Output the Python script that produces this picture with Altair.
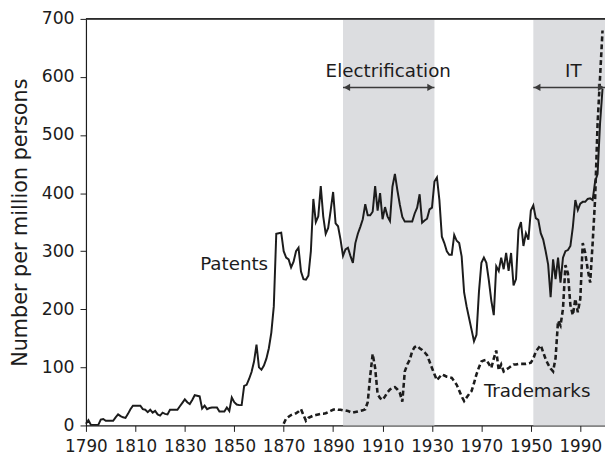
import altair as alt
import pandas as pd

# ---------------- data ----------------
pat_years = list(range(1790, 2000))
patents = [
    3, 9, 1, 1, 1, 1, 10, 11, 8, 8,
    8, 8, 14, 19, 16, 14, 13, 20, 28, 34,
    34, 34, 34, 28, 27, 23, 27, 22, 25, 19,
    17, 22, 20, 19, 27, 27, 27, 27, 33, 39,
    45, 40, 37, 44, 52, 51, 50, 29, 34, 28,
    30, 31, 31, 31, 24, 24, 24, 31, 25, 48,
    40, 36, 35, 35, 68, 70, 80, 92, 110, 139,
    100, 96, 103, 115, 133, 160, 205, 330, 331, 332,
    300, 289, 286, 272, 282, 300, 306, 265, 252, 251,
    258, 300, 390, 350, 360, 412, 360, 330, 340, 370,
    402, 348, 343, 320, 292, 303, 306, 292, 280, 314,
    330, 342, 355, 381, 362, 362, 368, 412, 370, 400,
    355, 376, 360, 352, 411, 433, 405, 380, 359, 351,
    351, 351, 351, 365, 375, 398, 349, 353, 356, 372,
    375, 420, 427, 388, 325, 314, 300, 294, 294, 328,
    318, 314, 291, 229, 205, 185, 165, 145, 156, 230,
    280, 289, 280, 250, 215, 190, 274, 266, 289, 269,
    297, 266, 297, 241, 252, 337, 350, 309, 331, 320,
    370, 379, 357, 354, 331, 320, 300, 277, 221, 286,
    252, 289, 246, 289, 300, 302, 309, 342, 388, 371,
    382, 385, 385, 390, 391, 388, 420, 433, 520, 580,
]
tm_years = list(range(1870, 2000))
trademarks = [
    3, 12, 15, 18, 20, 21, 24, 28, 18, 8,
    13, 15, 17, 18, 19, 20, 20, 21, 23, 25,
    27, 28, 27, 27, 26, 26, 25, 23, 22, 23,
    24, 25, 26, 28, 40, 85, 123, 99, 54, 47,
    44, 50, 57, 62, 65, 66, 62, 56, 41, 93,
    105, 113, 128, 135, 137, 133, 130, 126, 121, 110,
    99, 88, 78, 83, 88, 86, 84, 83, 82, 76,
    70, 60, 50, 42, 48, 54, 59, 73, 88, 100,
    110, 112, 113, 106, 99, 115, 129, 95, 105, 93,
    96, 99, 102, 105, 105, 106, 106, 106, 106, 107,
    108, 115, 127, 133, 138, 126, 114, 105, 98, 93,
    116, 180, 172, 201, 276, 262, 207, 190, 218, 195,
    218, 314, 297, 269, 246, 314, 390, 520, 600, 680,
]
eras = ["Electrification", "IT"]
era_start = [1894, 1971]
era_end = [1931, 2000]
era_label_x = [1912.3, 1987.2]
era_label_y = [600, 600]
era_arrow_y = [582, 582]

series_labels = ["Patents", "Trademarks"]
series_label_x = [1863.7, 1951]
series_label_y = [277, 49]

x_ticks = list(range(1790, 2000, 20))
y_ticks = list(range(0, 701, 100))

# ---------------- tables ----------------
pat_df = pd.DataFrame({"year": pat_years, "value": patents})
tm_df = pd.DataFrame({"year": tm_years, "value": trademarks})
era_df = pd.DataFrame({
    "era": eras, "start": era_start, "end": era_end,
    "lx": era_label_x, "ly": era_label_y, "ay": era_arrow_y,
})

FONT = "DejaVu Sans"
INK = "#1c1c1c"
xscale = alt.Scale(domain=[1790, 2000], nice=False, zero=False)
yscale = alt.Scale(domain=[0, 700], nice=False)

x_axis = alt.Axis(
    values=x_ticks, title=None, grid=False, tickSize=6, labelPadding=7,
    format="d",
    labelFontSize=17, labelFont=FONT, labelColor=INK, labelFlush=False,
    labelOverlap=False, domainColor=INK, tickColor=INK, domainWidth=1.2,
    labelExpr="datum.value == 1950 ? '1970' : datum.value == 1970 ? '1950' : datum.label",
)
y_axis = alt.Axis(
    values=y_ticks, title="Number per million persons", grid=False, tickSize=6,
    labelPadding=6, labelFontSize=17.5, labelFont=FONT, labelColor=INK,
    titleFont=FONT, titleFontSize=21, titleFontWeight="normal", titleColor=INK,
    titlePadding=11, domainColor=INK, tickColor=INK, domainWidth=1.2,
)

shade = alt.Chart(era_df).mark_rect(color="#dcdde0").encode(
    x=alt.X("start:Q", scale=xscale, axis=x_axis),
    x2="end:Q",
    y=alt.Y("y0:Q", scale=yscale, axis=y_axis),
    y2="y1:Q",
).transform_calculate(y0="0", y1="700")

top_rule = alt.Chart(era_df).mark_rule(color=INK, strokeWidth=1.2).encode(
    y=alt.datum(700, scale=yscale)
)

pat_line = alt.Chart(pat_df).mark_line(color=INK, strokeWidth=2).encode(
    x=alt.X("year:Q", scale=xscale), y=alt.Y("value:Q", scale=yscale)
)
tm_line = alt.Chart(tm_df).mark_line(
    color=INK, strokeWidth=2.6, strokeDash=[5, 3]
).encode(x=alt.X("year:Q", scale=xscale), y=alt.Y("value:Q", scale=yscale))

arrow_line = alt.Chart(era_df).mark_rule(color="#3a3a3a", strokeWidth=1.6).encode(
    x=alt.X("start:Q", scale=xscale), x2="end:Q", y=alt.Y("ay:Q", scale=yscale)
)
head_left = alt.Chart(era_df).mark_point(
    shape="triangle-left", filled=True, color="#3a3a3a", size=55, opacity=1, xOffset=4
).encode(x=alt.X("start:Q", scale=xscale), y=alt.Y("ay:Q", scale=yscale))
head_right = alt.Chart(era_df).mark_point(
    shape="triangle-right", filled=True, color="#3a3a3a", size=55, opacity=1, xOffset=-4
).encode(x=alt.X("end:Q", scale=xscale), y=alt.Y("ay:Q", scale=yscale))

era_text = alt.Chart(era_df).mark_text(
    font=FONT, fontSize=18.5, color=INK, align="center", baseline="alphabetic"
).encode(x=alt.X("lx:Q", scale=xscale), y=alt.Y("ly:Q", scale=yscale), text="era:N")

lab_df = pd.DataFrame({"t": series_labels, "x": series_label_x, "y": series_label_y})
pat_text = alt.Chart(lab_df.iloc[[0]]).mark_text(
    font=FONT, fontSize=18.5, color=INK, align="right", baseline="middle"
).encode(x=alt.X("x:Q", scale=xscale), y=alt.Y("y:Q", scale=yscale), text="t:N")
tm_text = alt.Chart(lab_df.iloc[[1]]).mark_text(
    font=FONT, fontSize=18.5, color=INK, align="left", baseline="alphabetic"
).encode(x=alt.X("x:Q", scale=xscale), y=alt.Y("y:Q", scale=yscale), text="t:N")

chart = alt.layer(
    shade, top_rule, pat_line, tm_line, arrow_line, head_left, head_right,
    era_text, pat_text, tm_text,
).properties(
    width=526, height=412,
    autosize=alt.AutoSizeParams(type="none"),
    padding={"left": 79, "top": 8, "right": 0, "bottom": 35},
).configure_view(stroke=None).configure(background="white")

chart.save("out.html", embed_options={"renderer": "svg", "actions": False})
